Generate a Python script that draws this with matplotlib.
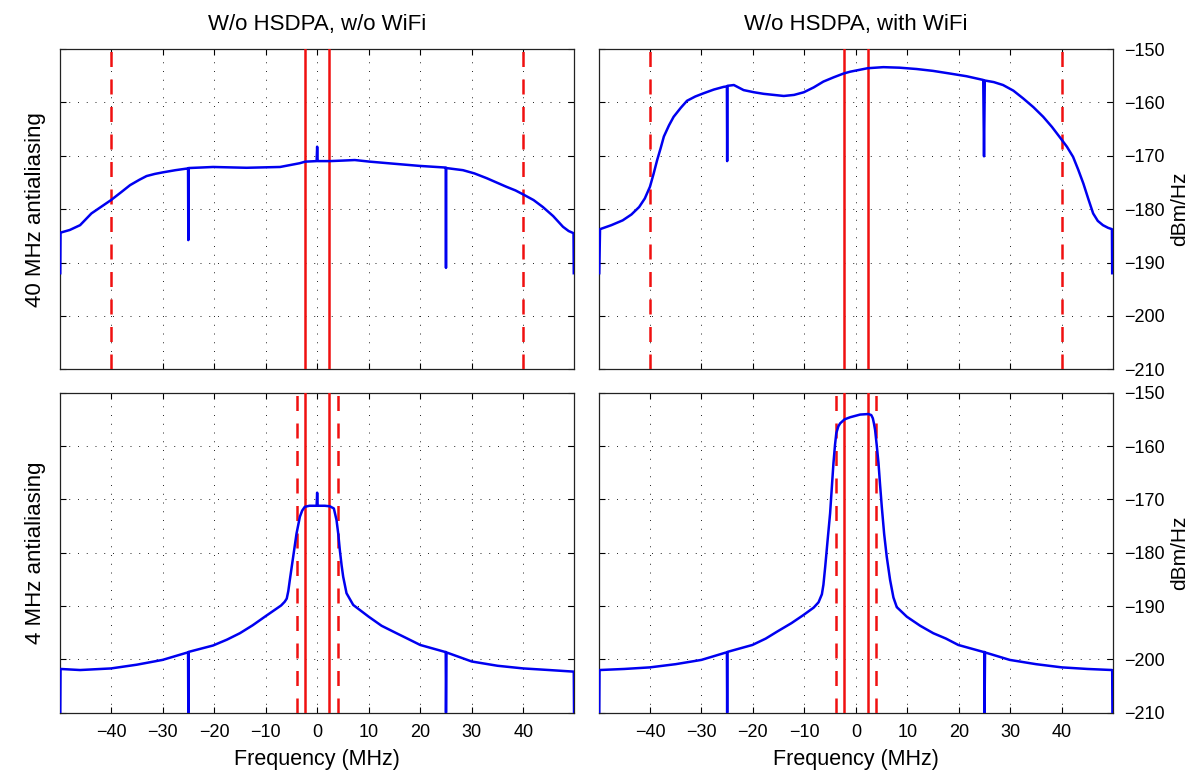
import matplotlib
matplotlib.use("Agg")
import matplotlib.pyplot as plt

plt.rcParams['font.family'] = ['Liberation Sans', 'DejaVu Sans']

# ---------------- data ----------------
col_titles = ["W/o HSDPA, w/o WiFi", "W/o HSDPA, with WiFi"]
row_titles = ["40 MHz antialiasing", "4 MHz antialiasing"]
x_label = "Frequency (MHz)"
y_label = "dBm/Hz"
x_ticks = [-40, -30, -20, -10, 0, 10, 20, 30, 40]
y_ticks = [-210, -200, -190, -180, -170, -160, -150]
x_limits = (-49.9, 49.9)
y_limits = (-210, -150)

# band markers (MHz)
solid_marks = [-2.33, 2.33]
dashed_marks_top = [-40, 40]
dashed_marks_bottom = [-3.95, 3.95]

# top-left: 40 MHz AA, no WiFi
tl_freq = [-49.85, -49.8, -48.0, -46.0, -43.8, -40.0, -38.0, -36.3, -34.5, -33.1, -31.5, -29.9, -27.5, -25.3,
           -25.05, -25.0, -24.95, -22.5, -20.2, -13.7, -7.2, -3.4, -2.3, -0.1, 0.0, 0.1, 2.5, 5.0, 7.3, 10.2,
           15.0, 19.9, 24.8, 24.95, 25.0, 25.05, 28.3, 30.5, 32.9, 34.8, 36.7, 38.5, 40.0, 42.0, 43.8, 45.8,
           47.7, 48.8, 49.75, 49.8]
tl_psd = [-192.0, -184.4, -183.9, -183.0, -180.8, -178.3, -176.8, -175.5, -174.5, -173.8, -173.4, -173.1, -172.7,
          -172.4, -172.4, -185.8, -172.3, -172.2, -172.1, -172.25, -172.1, -171.4, -171.1, -171.0, -168.3,
          -171.0, -171.0, -170.9, -170.8, -171.1, -171.5, -171.9, -172.2, -172.2, -191.0, -172.3, -172.7,
          -173.3, -174.2, -175.0, -175.8, -176.5, -177.25, -178.3, -179.6, -181.3, -183.3, -184.1, -184.5, -192.0]

# top-right: 40 MHz AA, with WiFi
tr_freq = [-49.85, -49.7, -47.5, -45.3, -43.6, -42.1, -41.0, -40.0, -39.3, -38.6, -37.9, -37.3, -36.3, -35.4,
           -34.0, -32.8, -31.2, -29.6, -27.6, -25.7, -25.05, -25.0, -24.95, -23.7, -21.8, -19.8, -17.9, -14.0,
           -12.0, -10.1, -8.2, -6.3, -4.3, -2.4, -1.1, 2.3, 5.35, 8.5, 11.8, 15.0, 18.3, 21.5, 24.75, 24.9,
           25.05, 26.8, 28.6, 30.6, 32.5, 34.5, 36.4, 38.1, 39.8, 41.0, 42.2, 43.2, 44.2, 45.2, 46.1, 47.0,
           48.0, 49.0, 49.75, 49.8]
tr_psd = [-192.0, -183.75, -183.0, -182.1, -181.0, -179.6, -178.0, -175.8, -173.4, -170.8, -168.5, -166.4,
          -164.3, -162.7, -161.0, -159.7, -158.9, -158.3, -157.6, -157.1, -157.0, -171.0, -156.9, -156.75,
          -157.7, -158.1, -158.4, -158.8, -158.6, -158.1, -157.2, -156.1, -155.3, -154.6, -154.25, -153.6,
          -153.4, -153.5, -153.75, -154.1, -154.6, -155.1, -155.8, -170.1, -155.9, -156.2, -156.75, -157.8,
          -159.25, -160.9, -162.7, -164.6, -166.75, -168.3, -170.2, -172.6, -175.2, -178.2, -180.8, -182.2,
          -183.0, -183.5, -183.75, -192.0]

# bottom-left: 4 MHz AA, no WiFi
bl_freq = [-49.85, -49.8, -46.0, -40.0, -35.0, -30.0, -25.3, -25.05, -25.0, -24.95, -20.2, -17.5, -15.0, -12.5,
           -10.0, -8.5, -7.0, -6.3, -5.9, -5.6, -5.3, -4.65, -4.0, -3.35, -2.9, -2.4, -1.5, -0.1, 0.0, 0.1,
           1.5, 2.46, 3.24, 3.76, 4.1, 4.4, 4.75, 5.05, 5.7, 7.0, 8.5, 10.0, 12.5, 15.4, 17.5, 20.0, 24.8,
           24.95, 25.0, 25.1, 30.0, 35.0, 40.0, 45.0, 49.8, 49.85]
bl_psd = [-210.0, -201.8, -202.0, -201.7, -201.0, -200.1, -198.75, -198.7, -210.0, -198.6, -197.4, -196.3,
          -195.1, -193.6, -191.9, -190.9, -189.9, -189.2, -188.6, -187.2, -185.1, -180.75, -176.4, -173.25,
          -172.1, -171.4, -171.2, -171.2, -168.75, -171.2, -171.2, -171.3, -171.7, -173.9, -176.5, -179.5,
          -182.4, -184.5, -187.6, -189.8, -190.9, -192.0, -193.7, -195.1, -196.1, -197.3, -198.6, -198.6,
          -210.0, -198.7, -200.4, -201.2, -201.7, -202.0, -202.3, -210.0]

# bottom-right: 4 MHz AA, with WiFi
br_freq = [-49.85, -49.8, -45.0, -40.0, -35.0, -30.0, -25.35, -25.05, -25.0, -24.95, -20.1, -17.5, -15.3, -12.5,
           -10.2, -8.2, -7.25, -6.6, -6.3, -5.95, -5.5, -5.0, -4.65, -4.35, -4.05, -3.8, -3.4, -3.05, -2.2,
           -1.1, 0.83, 2.45, 3.0, 3.3, 3.5, 3.74, 4.05, 4.4, 4.7, 5.04, 5.5, 6.0, 6.65, 7.3, 7.95, 9.9,
           12.5, 15.05, 17.5, 19.9, 24.75, 24.95, 25.0, 25.1, 29.9, 35.0, 40.0, 45.0, 49.8, 49.85]
br_psd = [-210.0, -202.0, -201.8, -201.5, -200.9, -200.1, -198.75, -198.7, -210.0, -198.6, -197.3, -196.1,
          -194.8, -193.2, -191.7, -190.3, -189.3, -187.8, -186.0, -182.6, -177.8, -172.6, -167.5, -163.2,
          -159.8, -157.6, -156.3, -155.75, -155.0, -154.6, -154.1, -154.0, -154.2, -154.8, -155.7, -157.0,
          -159.8, -163.2, -167.2, -171.4, -176.5, -180.75, -185.1, -188.4, -190.2, -192.0, -193.7, -195.1,
          -196.1, -197.3, -198.6, -198.6, -210.0, -198.7, -200.1, -200.9, -201.5, -201.8, -202.0, -210.0]

# ---------------- figure ----------------
W, H = 1200, 780
fig = plt.figure(figsize=(W / 100, H / 100), dpi=100)

def px_axes(x0, y0, x1, y1):
    return fig.add_axes([x0 / W, 1 - y1 / H, (x1 - x0) / W, (y1 - y0) / H])

lefts = [60, 599]
rights = [574.3, 1112.7]
tops = [49, 392.7]
bottoms = [369.3, 712.7]

curves = [[(tl_freq, tl_psd), (tr_freq, tr_psd)],
          [(bl_freq, bl_psd), (br_freq, br_psd)]]
dashed = [dashed_marks_top, dashed_marks_bottom]

blue = '#0000f0'
red = '#f01010'

for r in range(2):
    for c in range(2):
        ax = px_axes(lefts[c], tops[r], rights[c], bottoms[r])
        f, p = curves[r][c]
        for xv in solid_marks:
            ax.axvline(xv, color=red, lw=1.8, zorder=3)
        for xv in dashed[r]:
            ax.axvline(xv, color=red, lw=1.8, dashes=(6.0, 5.0), zorder=3)
        ax.plot(f, p, color=blue, lw=1.8, zorder=4)
        ax.set_xlim(*x_limits)
        ax.set_ylim(*y_limits)
        ax.set_xticks(x_ticks)
        ax.set_yticks(y_ticks)
        ax.grid(True, color='#222222', lw=0.7, dashes=(1, 8))
        ax.tick_params(direction='in', top=True, right=True, length=4, width=0.8,
                       labelsize=13, pad=8,
                       labelleft=False, labelright=(c == 1),
                       labelbottom=(r == 1), labeltop=False)
        for s in ax.spines.values():
            s.set_linewidth(0.9)
            s.set_color('#222222')
        if r == 1:
            fig.text((lefts[c] + rights[c]) / 2 / W, 1 - 765 / H, x_label,
                     ha='center', va='baseline', fontsize=15.5)
        if c == 1:
            fig.text(1180 / W, 1 - (tops[r] + bottoms[r]) / 2 / H, y_label,
                     rotation=90, ha='center', va='center', fontsize=15)
        if c == 0:
            fig.text(36 / W, 1 - (tops[r] + bottoms[r]) / 2 / H, row_titles[r],
                     rotation=90, ha='center', va='center', fontsize=16)
        if r == 0:
            fig.text((lefts[c] + rights[c]) / 2 / W, 1 - 30 / H, col_titles[c],
                     ha='center', va='baseline', fontsize=16)

fig.savefig("out.png", dpi=100)
